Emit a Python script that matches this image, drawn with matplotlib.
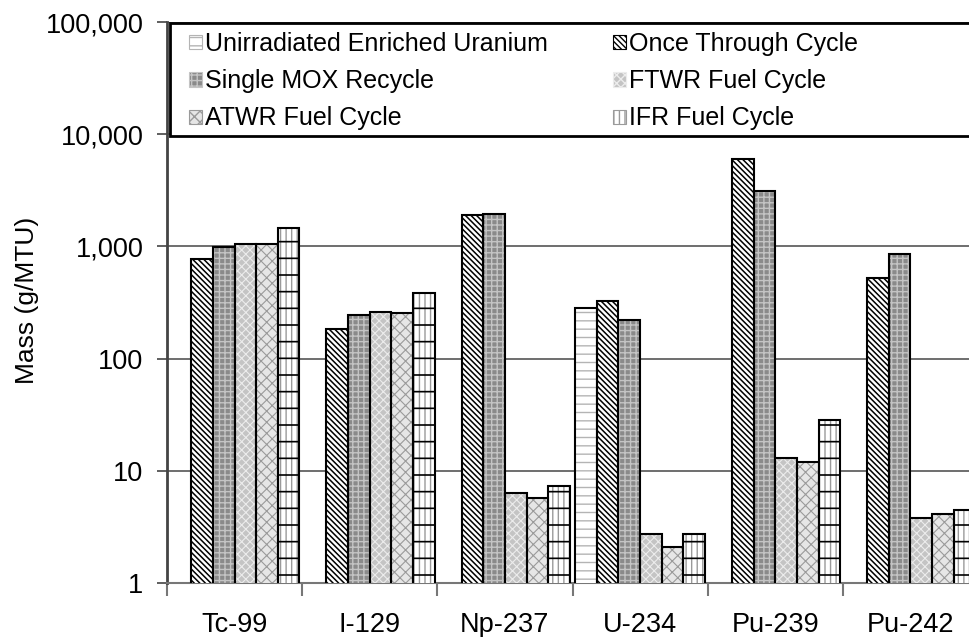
import numpy as np
import matplotlib
matplotlib.use('Agg')
import matplotlib.pyplot as plt
from matplotlib.patches import Patch, Rectangle
from matplotlib.ticker import FuncFormatter, NullLocator, FixedLocator

plt.rcParams['font.family'] = ['Liberation Sans', 'DejaVu Sans']

# data (g/MTU), nan = no bar
isotopes = ['Tc-99', 'I-129', 'Np-237', 'U-234', 'Pu-239', 'Pu-242']
series = ['Unirradiated Enriched Uranium', 'Once Through Cycle',
          'Single MOX Recycle', 'FTWR Fuel Cycle',
          'ATWR Fuel Cycle', 'IFR Fuel Cycle']
unirradiated = [np.nan, np.nan, np.nan, 284, np.nan, np.nan]
once_through = [780, 182, 1900, 325, 6070, 526]
single_mox = [990, 244, 1940, 220, 3120, 849]
ftwr = [1057, 259, 6.3, 2.72, 13.1, 3.78]
atwr = [1057, 257, 5.7, 2.11, 12.1, 4.1]
ifr = [1456, 383, 7.3, 2.75, 28.3, 4.48]

values = [unirradiated, once_through, single_mox, ftwr, atwr, ifr]

# (facecolor, hatch, hatch colour, hatch width)
styles = [
    ('white', '--', '#b4b4b4', 1.0),
    ('white', '\\' * 6, 'black', 1.1),
    ('#8a8a8a', '+++', '#c4c4c4', 1.0),
    ('#c4c4c4', 'xxxx', '#ececec', 0.8),
    ('#e6e6e6', 'xxx', '#9a9a9a', 0.8),
    ('white', '|||', '#9a9a9a', 1.0),
]

fig = plt.figure(figsize=(9.69, 6.37), dpi=100)
ax = fig.add_axes([167/969, 54/637, 811/969, 561/637])

x = np.arange(len(isotopes))
w = 0.16
for i, (vals, (fc, hatch, hc, hlw)) in enumerate(zip(values, styles)):
    pos = x + (i - 2.5) * w
    v = np.array(vals, dtype=float)
    with plt.rc_context({'hatch.linewidth': hlw}):
        ax.bar(pos, v, w, color=fc, edgecolor=hc, hatch=hatch, lw=0, zorder=3)
    if i == 5:
        # IFR has black horizontal bands over the vertical lines
        with plt.rc_context({'hatch.linewidth': 1.2}):
            ax.bar(pos, v, w, fill=False, edgecolor='black', hatch='-', lw=0, zorder=3.5)
    ax.bar(pos, v, w, fill=False, edgecolor='black', lw=1.5, zorder=4)

ax.set_yscale('log')
ax.set_ylim(1, 100000)
ax.set_xlim(-0.5, len(isotopes) - 0.5)
ax.yaxis.set_major_locator(FixedLocator([1, 10, 100, 1000, 10000, 100000]))
ax.yaxis.set_minor_locator(NullLocator())
ax.yaxis.set_major_formatter(FuncFormatter(lambda v, p: f'{int(round(v)):,}'))
ax.yaxis.grid(True, color='#555555', lw=1.2, zorder=0)
ax.set_axisbelow(True)

ax.set_xticks(np.arange(-0.5, len(isotopes)), labels=[''] * (len(isotopes) + 1))
ax.set_xticks(x, labels=isotopes, minor=True)
ax.tick_params(axis='x', which='major', length=9, width=1.5, color='#777777')
ax.tick_params(axis='x', which='minor', length=0, pad=21, labelsize=19.5)
ax.tick_params(axis='y', length=7, width=1.2, color='#444444', pad=10, labelsize=19.5)

for s in ['top', 'right']:
    ax.spines[s].set_visible(False)
ax.spines['left'].set_color('#444444')
ax.spines['left'].set_linewidth(2)
ax.spines['bottom'].set_color('#777777')
ax.spines['bottom'].set_linewidth(1.5)

fig.text(27/969, 1 - 300/637, 'Mass (g/MTU)', rotation=90, ha='center',
         va='center', fontsize=19)

# legend box spanning the top of the plot
box = Rectangle((170/969, 1 - 136/637), 850/969, 113/637, transform=fig.transFigure,
                facecolor='white', edgecolor='black', lw=2, zorder=8, clip_on=False)
ax.add_patch(box)

handles = []
for fc, hatch, hc, hlw in styles:
    with plt.rc_context({'hatch.linewidth': hlw}):
        handles.append(Patch(facecolor=fc, edgecolor=hc, hatch=hatch, lw=0.8))
# legend reads across rows, matplotlib fills down columns
order = [0, 2, 4, 1, 3, 5]
leg = ax.legend([handles[k] for k in order], [series[k] for k in order],
                ncol=2, loc='upper left',
                bbox_to_anchor=(189/969, 1 - 32/637), bbox_transform=fig.transFigure,
                frameon=False, fontsize=18, handlelength=0.5, handleheight=0.5,
                handletextpad=0.15, columnspacing=2.6, labelspacing=0.53,
                borderpad=0, borderaxespad=0)
leg.set_zorder(10)

fig.savefig('out.png', dpi=100)
